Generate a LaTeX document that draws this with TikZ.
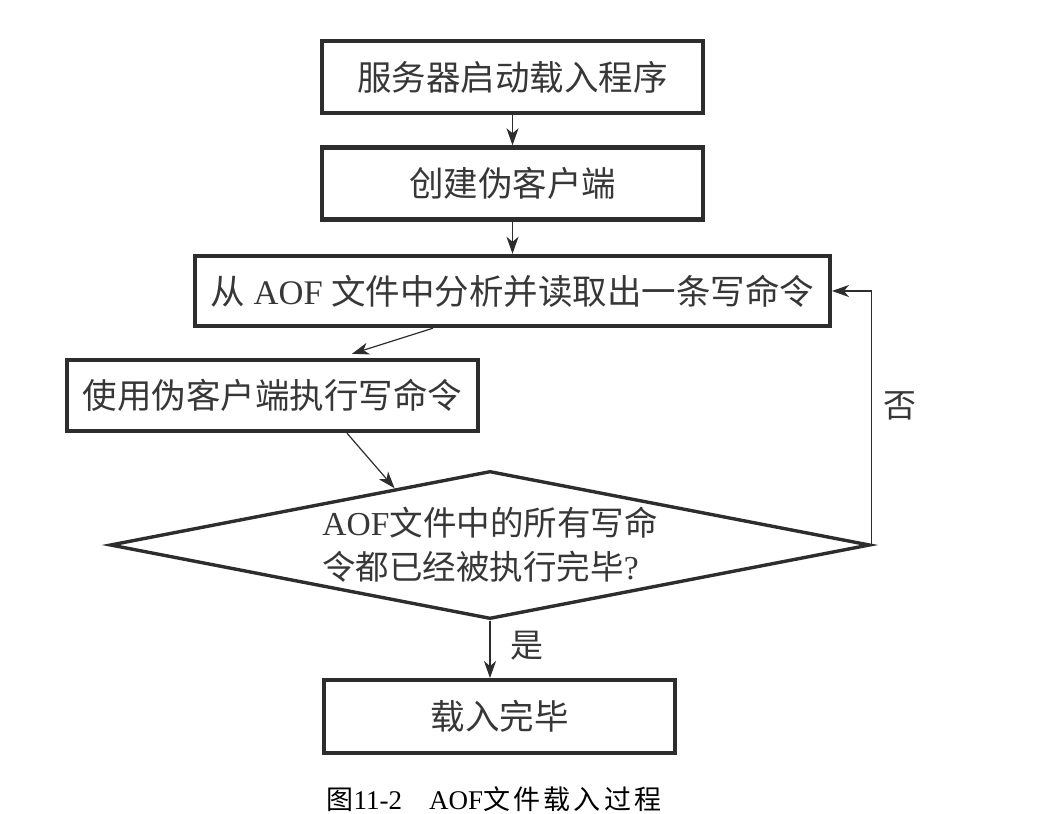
\documentclass[tikz,border=0pt]{standalone}
\usepackage{fontspec}
\setmainfont{Liberation Serif}
\newfontfamily\cjk{Noto Sans CJK SC}
\usetikzlibrary{shapes.geometric,arrows.meta,calc}
\definecolor{ink}{RGB}{45,45,45}
\definecolor{txt}{RGB}{55,55,55}
\begin{document}
\begin{tikzpicture}[x=1pt,y=-1pt,
  box/.style={draw=ink,line width=4.4pt,inner sep=0pt,text=txt,
    font=\cjk\fontsize{34.5}{40}\selectfont},
  dec/.style={draw=ink,line width=3.4pt,shape=diamond,aspect=5.1,inner sep=0pt,
    minimum width=760pt,minimum height=148pt,text=txt,align=left,
    font=\cjk\fontsize{33.5}{44}\selectfont},
  lbl/.style={text=txt,font=\cjk\fontsize{33}{36}\selectfont,inner sep=0pt},
  arr/.style={draw=ink,line width=1.2pt,-{Stealth[length=17pt,width=12pt,inset=5pt]}},
  capt/.style={text=black,font=\fontsize{27}{30}\selectfont,inner sep=0pt}]
\useasboundingbox (0,0) rectangle (1037,814);
\node[box,minimum width=381.5pt,minimum height=72pt] (b1) at (512.5,77) {服务器启动载入程序};
\node[box,minimum width=381.5pt,minimum height=72pt] (b2) at (512.5,183.5) {创建伪客户端};
\node[box,minimum width=634.5pt,minimum height=70pt] (b3) at (512.5,291) {从{\rmfamily\ AOF }文件中分析并读取出一条写命令};
\node[box,minimum width=410.5pt,minimum height=71pt] (b4) at (272.5,395.5) {使用伪客户端执行写命令};
\node[dec] (d) at (490,545) {{\rmfamily AOF}文件中的所有写命\\令都已经被执行完毕{\rmfamily ?}};
\node[box,minimum width=350.5pt,minimum height=72.5pt] (b5) at (499.5,716.5) {载入完毕};
\node[lbl] (no) at (900,406) {否};
\node[lbl] (yes) at (527,646) {是};
\node[capt] (cap) at (494,799) {{\cjk 图}11-2\quad AOF{\cjk\addfontfeature{LetterSpace=12} 文件载入过程}};
\draw[arr] (b1.south) -- (b2.north);
\draw[arr] (b2.south) -- (b2.south |- b3.north);
\draw[arr] ([xshift=-79.5pt]b3.south) -- ([xshift=79.5pt,yshift=4pt]b4.north);
\draw[arr] ([xshift=74.5pt]b4.south) -- ($(d.west)!0.75!(d.north)$);
\draw[arr] (d.east) -- (d.east |- b3.east) -- (b3.east);
\draw[arr] (d.south) -- (d.south |- b5.north);
\end{tikzpicture}
\end{document}
